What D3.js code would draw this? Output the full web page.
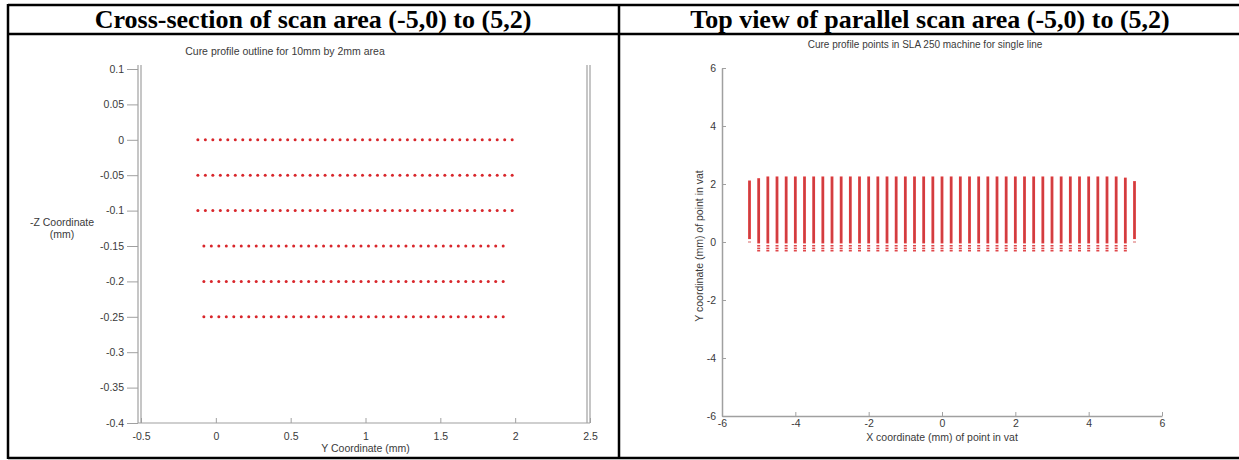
<!DOCTYPE html>
<html>
<head>
<meta charset="utf-8">
<script src="https://cdn.jsdelivr.net/npm/d3@7"></script>
<style>
  html, body { margin: 0; padding: 0; background: #fff; }
  svg { display: block; }
</style>
</head>
<body>
<div id="chart"></div>
<script>
// left panel: cross-section dots
const leftXTicks = [-0.5, 0, 0.5, 1, 1.5, 2, 2.5]
const leftYTicks = [0.1, 0.05, 0, -0.05, -0.1, -0.15, -0.2, -0.25, -0.3, -0.35, -0.4]
const rowsLong = [0, -0.05, -0.1]
const rowsShort = [-0.15, -0.2, -0.25]
const scanLong = [-0.12, -0.07, -0.02, 0.03, 0.08, 0.13, 0.18, 0.23, 0.28, 0.33, 0.38, 0.43, 0.48, 0.53, 0.58, 0.63, 0.68, 0.73, 0.78, 0.83, 0.88, 0.93, 0.98, 1.03, 1.08, 1.13, 1.18, 1.23, 1.28, 1.33, 1.38, 1.43, 1.48, 1.53, 1.58, 1.63, 1.68, 1.73, 1.78, 1.83, 1.88, 1.93, 1.98]
const scanShort = [-0.08, -0.03, 0.02, 0.07, 0.12, 0.17, 0.22, 0.27, 0.32, 0.37, 0.42, 0.47, 0.52, 0.57, 0.62, 0.67, 0.72, 0.77, 0.82, 0.87, 0.92, 0.97, 1.02, 1.07, 1.12, 1.17, 1.22, 1.27, 1.32, 1.37, 1.42, 1.47, 1.52, 1.57, 1.62, 1.67, 1.72, 1.77, 1.82, 1.87, 1.92]

// right panel: top view scan lines
const rightTicks = [-6, -4, -2, 0, 2, 4, 6]
const lineX = [-5.25, -5, -4.75, -4.5, -4.25, -4, -3.75, -3.5, -3.25, -3, -2.75, -2.5, -2.25, -2, -1.75, -1.5, -1.25, -1, -0.75, -0.5, -0.25, 0, 0.25, 0.5, 0.75, 1, 1.25, 1.5, 1.75, 2, 2.25, 2.5, 2.75, 3, 3.25, 3.5, 3.75, 4, 4.25, 4.5, 4.75, 5, 5.25]
const lineTop = [2.12, 2.2, 2.26, 2.26, 2.26, 2.26, 2.26, 2.26, 2.26, 2.26, 2.26, 2.26, 2.26, 2.26, 2.26, 2.26, 2.26, 2.26, 2.26, 2.26, 2.26, 2.26, 2.26, 2.26, 2.26, 2.26, 2.26, 2.26, 2.26, 2.26, 2.26, 2.26, 2.26, 2.26, 2.26, 2.26, 2.26, 2.26, 2.26, 2.26, 2.26, 2.22, 2.1]
const lineBottom = [0.1, -0.05, -0.05, -0.05, -0.05, -0.05, -0.05, -0.05, -0.05, -0.05, -0.05, -0.05, -0.05, -0.05, -0.05, -0.05, -0.05, -0.05, -0.05, -0.05, -0.05, -0.05, -0.05, -0.05, -0.05, -0.05, -0.05, -0.05, -0.05, -0.05, -0.05, -0.05, -0.05, -0.05, -0.05, -0.05, -0.05, -0.05, -0.05, -0.05, -0.05, -0.05, 0.1]
const tailDots = [-0.13, -0.22, -0.3]

const W = 1239
const H = 460
const axisColor = '#a0a0a0'
const labelColor = '#3a3a3a'
const dotRed = '#d8262b'
const smallFont = 10.5

const svg = d3.select('#chart')
  .append('svg')
  .attr('width', W)
  .attr('height', H)
  .style('font-family', 'Liberation Sans, Arial, sans-serif')

svg.append('rect').attr('width', W).attr('height', H).attr('fill', '#fff')

// table frame
const frame = svg.append('g').attr('stroke', '#000').attr('stroke-width', 2.5)
frame.append('line').attr('x1', 8).attr('x2', W).attr('y1', 5).attr('y2', 5)
frame.append('line').attr('x1', 8).attr('x2', W).attr('y1', 34).attr('y2', 34)
frame.append('line').attr('x1', 8).attr('x2', W).attr('y1', 458).attr('y2', 458)
frame.append('line').attr('x1', 8).attr('x2', 8).attr('y1', 4).attr('y2', 459)
frame.append('line').attr('x1', 619).attr('x2', 619).attr('y1', 4).attr('y2', 459)

const headFont = 'Liberation Serif, Times New Roman, serif'
svg.append('text')
  .attr('x', 313).attr('y', 28)
  .attr('text-anchor', 'middle')
  .attr('font-family', headFont)
  .attr('font-weight', 'bold')
  .attr('font-size', 26)
  .text('Cross-section of scan area (-5,0) to (5,2)')

svg.append('text')
  .attr('x', 930).attr('y', 28)
  .attr('text-anchor', 'middle')
  .attr('font-family', headFont)
  .attr('font-weight', 'bold')
  .attr('font-size', 26)
  .text('Top view of parallel scan area (-5,0) to (5,2)')

// ---------- left chart ----------
const lx = d3.scaleLinear().domain([-0.5, 2.5]).range([141, 590])
const ly = d3.scaleLinear().domain([-0.4, 0.1]).range([423, 69])

const left = svg.append('g')

left.append('text')
  .attr('x', 285).attr('y', 55)
  .attr('text-anchor', 'middle')
  .attr('font-size', smallFont)
  .attr('fill', labelColor)
  .text('Cure profile outline for 10mm by 2mm area')

const lyAxis = left.append('g')
  .attr('transform', `translate(${lx(-0.5) - 3},0)`)
  .call(d3.axisLeft(ly).tickValues(leftYTicks).tickSize(11).tickSizeOuter(0).tickPadding(3).tickFormat((d) => String(d)))
lyAxis.select('.domain').remove()
lyAxis.selectAll('line').attr('stroke', axisColor)
lyAxis.selectAll('text').attr('fill', labelColor).attr('font-size', smallFont).attr('font-family', null)

const lxAxis = left.append('g')
  .attr('transform', `translate(0,${ly(-0.4)})`)
  .call(d3.axisBottom(lx).tickValues(leftXTicks).tickSize(-5).tickSizeOuter(0).tickPadding(10).tickFormat((d) => String(d)))
lxAxis.select('.domain').remove()
lxAxis.selectAll('line').attr('stroke', axisColor)
lxAxis.selectAll('text').attr('fill', labelColor).attr('font-size', smallFont).attr('font-family', null)

// frame lines (doubled edges like the original)
const leftFrame = left.append('g').attr('stroke', axisColor).attr('stroke-width', 1.2)
;[lx(-0.5) - 3, lx(-0.5), lx(2.5) - 3, lx(2.5)].forEach((xx) => {
  leftFrame.append('line').attr('x1', xx).attr('x2', xx).attr('y1', ly(0.1) - 4).attr('y2', ly(-0.4))
})
leftFrame.append('line')
  .attr('x1', lx(-0.5) - 3).attr('x2', lx(2.5))
  .attr('y1', ly(-0.4)).attr('y2', ly(-0.4))

left.append('text')
  .attr('x', lx(1)).attr('y', 452)
  .attr('text-anchor', 'middle')
  .attr('font-size', smallFont)
  .attr('fill', labelColor)
  .text('Y Coordinate (mm)')

left.append('text')
  .attr('x', 62).attr('y', 226)
  .attr('text-anchor', 'middle')
  .attr('font-size', smallFont)
  .attr('fill', labelColor)
  .text('-Z Coordinate')
left.append('text')
  .attr('x', 62).attr('y', 238)
  .attr('text-anchor', 'middle')
  .attr('font-size', smallFont)
  .attr('fill', labelColor)
  .text('(mm)')

const dotRows = [
  ...rowsLong.map((z) => ({ z, pts: scanLong })),
  ...rowsShort.map((z) => ({ z, pts: scanShort }))
]
dotRows.forEach((row) => {
  left.append('g')
    .selectAll('circle')
    .data(row.pts)
    .join('circle')
    .attr('cx', (d) => lx(d))
    .attr('cy', ly(row.z))
    .attr('r', 1.5)
    .attr('fill', dotRed)
})

// ---------- right chart ----------
const rx = d3.scaleLinear().domain([-6, 6]).range([722, 1162])
const ry = d3.scaleLinear().domain([-6, 6]).range([416, 68])

const right = svg.append('g')

right.append('text')
  .attr('x', 925).attr('y', 48)
  .attr('text-anchor', 'middle')
  .attr('font-size', 10)
  .attr('fill', labelColor)
  .text('Cure profile points in SLA 250 machine for single line')

const ryAxis = right.append('g')
  .attr('transform', `translate(${rx(-6)},0)`)
  .call(d3.axisLeft(ry).tickValues(rightTicks).tickSize(-4).tickSizeOuter(0).tickPadding(6).tickFormat((d) => String(d)))
ryAxis.select('.domain').attr('stroke', axisColor).attr('stroke-width', 1.5)
ryAxis.selectAll('.tick line').attr('stroke', axisColor)
ryAxis.selectAll('text').attr('fill', labelColor).attr('font-size', smallFont).attr('font-family', null)

const rxAxis = right.append('g')
  .attr('transform', `translate(0,${ry(-6)})`)
  .call(d3.axisBottom(rx).tickValues(rightTicks).tickSize(-4).tickSizeOuter(0).tickPadding(4).tickFormat((d) => String(d)))
rxAxis.select('.domain').attr('stroke', axisColor).attr('stroke-width', 1.5)
rxAxis.selectAll('.tick line').attr('stroke', axisColor)
rxAxis.selectAll('text').attr('fill', labelColor).attr('font-size', smallFont).attr('font-family', null)

right.append('text')
  .attr('x', rx(0)).attr('y', 441)
  .attr('text-anchor', 'middle')
  .attr('font-size', smallFont)
  .attr('fill', labelColor)
  .text('X coordinate (mm) of point in vat')

right.append('text')
  .attr('transform', `translate(703,${ry(0) + 4}) rotate(-90)`)
  .attr('text-anchor', 'middle')
  .attr('font-size', smallFont)
  .attr('fill', labelColor)
  .text('Y coordinate (mm) of point in vat')

const scanLines = lineX.map((x, i) => ({ x, top: lineTop[i], bottom: lineBottom[i], inner: i > 0 && i < lineX.length - 1 }))

const bars = right.append('g')
bars.selectAll('line.body')
  .data(scanLines)
  .join('line')
  .attr('class', 'body')
  .attr('x1', (d) => rx(d.x)).attr('x2', (d) => rx(d.x))
  .attr('y1', (d) => ry(d.bottom)).attr('y2', (d) => ry(d.top))
  .attr('stroke', '#e23a3c')
  .attr('stroke-width', 2.8)
bars.selectAll('line.core')
  .data(scanLines)
  .join('line')
  .attr('class', 'core')
  .attr('x1', (d) => rx(d.x)).attr('x2', (d) => rx(d.x))
  .attr('y1', (d) => ry(d.bottom) - 1).attr('y2', (d) => ry(d.top) + 1)
  .attr('stroke', '#a8474c')
  .attr('stroke-opacity', 0.5)
  .attr('stroke-width', 1)

scanLines.filter((d) => d.inner).forEach((d) => {
  bars.append('g')
    .selectAll('rect')
    .data(tailDots)
    .join('rect')
    .attr('x', rx(d.x) - 1.5)
    .attr('y', (v) => ry(v) - 0.8)
    .attr('width', 3)
    .attr('height', 1.6)
    .attr('fill', '#e0474a')
})
scanLines.filter((d) => !d.inner).forEach((d) => {
  bars.append('rect')
    .attr('x', rx(d.x) - 1.5)
    .attr('y', ry(0) - 0.8)
    .attr('width', 3)
    .attr('height', 1.6)
    .attr('fill', '#e8a0a0')
})
</script>
</body>
</html>
